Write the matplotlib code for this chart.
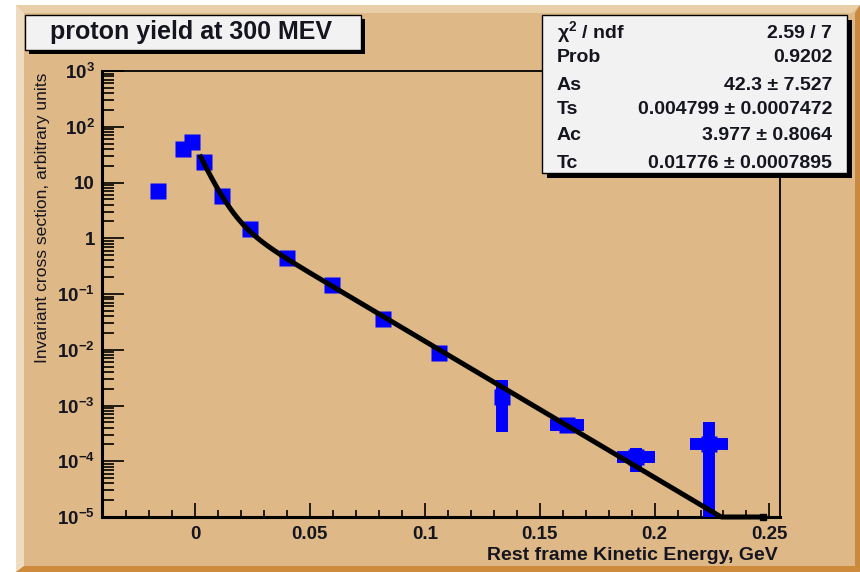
import numpy as np
import matplotlib
matplotlib.use("Agg")
import matplotlib.pyplot as plt
from matplotlib.patches import Rectangle, Polygon
from matplotlib.ticker import MultipleLocator, FixedLocator, FuncFormatter, NullFormatter

plt.rcParams["font.family"] = ["Liberation Sans", "DejaVu Sans"]
plt.rcParams["mathtext.fontset"] = "custom"
plt.rcParams["mathtext.rm"] = "Liberation Sans:bold"
plt.rcParams["mathtext.bf"] = "Liberation Sans:bold"
plt.rcParams["mathtext.it"] = "Liberation Sans:italic:bold"
plt.rcParams["mathtext.default"] = "bf"

# proton yield points (rest frame kinetic energy in GeV)
energy = [-0.016, -0.0051, -0.0012, 0.0039, 0.0116, 0.0239, 0.0402, 0.0595,
          0.0817, 0.1063, 0.1335, 0.1619, 0.1919, 0.2237]
energy_err = [0, 0, 0, 0, 0, 0, 0, 0, 0, 0, 0, 0.0074, 0.0083, 0.0084]
xsec = [7.1, 40.0, 54.0, 23.6, 5.7, 1.45, 0.44, 0.145, 0.035, 0.0086,
        1.42e-3, 4.4e-4, 1.19e-4, 2.04e-4]
xsec_err_lo = [0, 0, 0, 0, 0, 0, 0, 0, 0, 0, 1.08e-3, 0.5e-4, 5.5e-5, 3.0e-4]
xsec_err_hi = [0, 0, 0, 0, 0, 0, 0, 0, 0, 0, 1.5e-3, 0.5e-4, 5.5e-5, 3.0e-4]

# two-exponential fit results
chi2, ndf, prob = 2.59, 7, 0.9202
par_names = ["As", "Ts", "Ac", "Tc"]
par_values = [42.3, 0.004799, 3.977, 0.01776]
par_errors = [7.527, 0.0007472, 0.8064, 0.0007895]
par_fmt = ["%.1f", "%.6f", "%.3f", "%.5f"]
fit_range = (0.002, 0.247)

y_decades = list(range(-5, 4))

W, H = 860, 572
TAN = "#DEB887"


def px(x, y):
    # pixel (top-left origin) -> figure fraction
    return x / W, 1 - y / H


def box(fig, x0, y0, x1, y1, shadow):
    fig.patches.append(Rectangle(px(x0 + shadow, y1 + shadow), (x1 - x0) / W, (y1 - y0) / H,
                                 transform=fig.transFigure, facecolor="black",
                                 edgecolor="none", zorder=2))
    fig.patches.append(Rectangle(px(x0, y1), (x1 - x0) / W, (y1 - y0) / H,
                                 transform=fig.transFigure, facecolor="#F2F2F2",
                                 edgecolor="black", linewidth=1.0, zorder=3))


def main():
    fig = plt.figure(figsize=(W / 100, H / 100), dpi=100)
    fig.patch.set_facecolor("white")

    # canvas with bevelled border
    fig.patches.append(Rectangle(px(16, 572), (W - 16) / W, 567 / H,
                                 transform=fig.transFigure, facecolor=TAN,
                                 edgecolor="none", zorder=-2))
    bevels = [
        ([(16, 5), (860, 5), (852, 13), (24, 13)], "#E9CFA7"),
        ([(16, 5), (24, 13), (24, 566), (16, 572)], "#EFDCC0"),
        ([(16, 572), (24, 566), (855, 566), (860, 572)], "#CD8B3B"),
        ([(860, 5), (860, 572), (855, 566), (855, 13)], "#C98A40"),
    ]
    for pts, col in bevels:
        fig.patches.append(Polygon([px(*p) for p in pts], closed=True,
                                   transform=fig.transFigure, facecolor=col,
                                   edgecolor="none", zorder=-1))

    ax = fig.add_axes([102 / W, 1 - 517 / H, 678 / W, 446 / H])
    ax.set_zorder(1)
    ax.set_facecolor(TAN)
    ax.set_yscale("log")
    ax.set_xlim(-0.0405, 0.2546)
    ax.set_ylim(10.0 ** y_decades[0], 10.0 ** y_decades[-1])

    x = np.array(energy)
    y = np.array(xsec)
    lo = np.minimum(np.array(xsec_err_lo), y - 1e-7)
    hi = np.array(xsec_err_hi)
    ax.errorbar(x, y, xerr=energy_err, yerr=[lo, hi], fmt="s", ms=12.2,
                mfc="#0000FF", mec="none", ecolor="#0000FF", elinewidth=8.6,
                capsize=0, zorder=3)

    # fit curve, clamped to the lower edge like ROOT does
    As, Ts, Ac, Tc = par_values
    xf = np.linspace(fit_range[0], fit_range[1], 500)
    yf = As * np.exp(-xf / Ts) + Ac * np.exp(-xf / Tc)
    yf = np.maximum(yf, 10.0 ** y_decades[0])
    ax.plot(xf, yf, color="black", lw=3.6, solid_capstyle="butt",
            clip_on=False, zorder=5)
    ax.plot(xf[-1:], yf[-1:], "s", color="black", ms=4.5, clip_on=False, zorder=5)

    # axes / ticks
    ax.xaxis.set_major_locator(MultipleLocator(0.05))
    ax.xaxis.set_minor_locator(MultipleLocator(0.01))
    ax.xaxis.set_major_formatter(FuncFormatter(
        lambda v, p: "0" if abs(v) < 1e-9 else "%g" % round(v, 3)))
    major_y = [10.0 ** e for e in y_decades]
    minor_y = [m * 10.0 ** e for e in y_decades[:-1] for m in range(2, 10)]
    ax.yaxis.set_major_locator(FixedLocator(major_y))
    ax.yaxis.set_minor_locator(FixedLocator(minor_y))
    ax.yaxis.set_minor_formatter(NullFormatter())

    def yfmt(v, p):
        e = int(round(np.log10(v)))
        if e == 0:
            return "1"
        if e == 1:
            return "10"
        return r"$10^{%d}$" % e
    ax.yaxis.set_major_formatter(FuncFormatter(yfmt))

    ax.tick_params(axis="both", which="both", direction="in", top=False, right=False,
                   colors="black", width=1.2)
    ax.tick_params(axis="x", which="major", length=10, pad=6.5, labelsize=13.5)
    ax.tick_params(axis="x", which="minor", length=5)
    ax.tick_params(axis="y", which="major", length=16, pad=5, labelsize=13.5)
    ax.tick_params(axis="y", which="minor", length=8.5)
    for lab in ax.get_xticklabels() + ax.get_yticklabels():
        lab.set_fontweight("bold")
        lab.set_color("#15151f")
    for side in ("left", "bottom"):
        ax.spines[side].set_linewidth(2.2)
    for side in ("top", "right"):
        ax.spines[side].set_linewidth(1.3)

    fig.text(*px(778, 555), "Rest frame Kinetic Energy, GeV", ha="right", va="center",
             fontsize=14, fontweight="bold", color="#15151f")
    fig.text(*px(43, 73), "Invariant cross section, arbitrary units", rotation=90,
             ha="center", va="top", fontsize=12.6, color="#15151f")

    # title box
    box(fig, 25, 15, 361, 50, 4)
    fig.text(*px(191, 32), "proton yield at 300 MEV", ha="center", va="center",
             fontsize=18, fontweight="bold", color="#15151f", zorder=4)

    # fit statistics box
    box(fig, 542, 15, 847, 173, 5)
    rows = [(r"$\chi^{2}$ / ndf", "%.2f / %d" % (chi2, ndf)), ("Prob", "%.4f" % prob)]
    for name, v, e, f in zip(par_names, par_values, par_errors, par_fmt):
        rows.append((name, (f % v).rstrip("0") + " \u00b1 " + ("%.7f" % e).rstrip("0")))
    baselines = [38, 61.5, 89.5, 113.5, 140.5, 168]
    for (name, val), yb in zip(rows, baselines):
        fig.text(*px(557, yb), name, ha="left", va="baseline", fontsize=14,
                 fontweight="bold", color="#15151f", zorder=4)
        fig.text(*px(832, yb), val, ha="right", va="baseline", fontsize=14,
                 fontweight="bold", color="#15151f", zorder=4)

    fig.savefig("out.png", dpi=100, facecolor=fig.get_facecolor())


if __name__ == "__main__":
    main()
